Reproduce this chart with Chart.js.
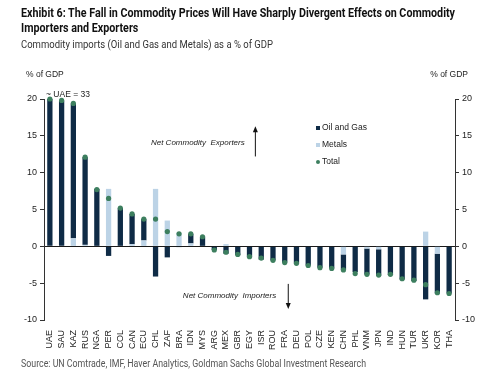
<!DOCTYPE html>
<html>
<head>
<meta charset="utf-8">
<script src="https://cdn.jsdelivr.net/npm/chart.js@4"></script>
<style>
  html, body { margin: 0; padding: 0; background: #fff; }
  #wrap { position: relative; width: 500px; height: 373px; overflow: hidden; }
  #chart { position: absolute; left: 0; top: 0; }
  .txt { position: absolute; left: 21px; white-space: nowrap; transform-origin: 0 0;
         font-family: Roboto, "Liberation Sans", sans-serif; }
  #title { top: 5px; font-size: 13px; font-weight: bold; color: #111; line-height: 15px; }
  #subtitle { top: 38px; font-size: 11px; color: #333; }
  #source { top: 357px; font-size: 10.5px; color: #555; }
</style>
</head>
<body>
<div id="wrap">
  <canvas id="chart" width="500" height="373"></canvas>
  <div class="txt" id="title" data-w="434">Exhibit 6: The Fall in Commodity Prices Will Have Sharply Divergent Effects on Commodity<br>Importers and Exporters</div>
  <div class="txt" id="subtitle" data-w="252">Commodity imports (Oil and Gas and Metals) as a % of GDP</div>
  <div class="txt" id="source" data-w="345">Source: UN Comtrade, IMF, Haver Analytics, Goldman Sachs Global Investment Research</div>
</div>
<script>
/*
* chart data (% of GDP)
*/
const countries = ['UAE', 'SAU', 'KAZ', 'RUS', 'NGA', 'PER', 'COL', 'CAN', 'ECU', 'CHL',
   'ZAF', 'BRA', 'IDN', 'MYS', 'ARG', 'MEX', 'GBR', 'EGY', 'ISR', 'ROU', 'FRA', 'DEU',
   'POL', 'CZE', 'KEN', 'CHN', 'PHL', 'VNM', 'JPN', 'IND', 'HUN', 'TUR', 'UKR', 'KOR', 'THA'];

const oilAndGas = [33, 19.8, 18.3, 11.9, 7.8, -1.3, 5.2, 4.1, 2.9, -4.1,
   -1.5, -0.1, 1.3, 1.3, -0.5, -1.0, -1.2, -1.5, -1.8, -1.9, -2.2, -2.3,
   -2.6, -2.9, -3.0, -2.1, -3.5, -3.5, -3.6, -3.9, -4.5, -4.7, -7.2, -5.4, -6.4];

const metals = [0, 0, 1.1, 0.2, 0, 7.8, 0, 0.3, 0.8, 7.8,
   3.5, 1.8, 0.4, 0, 0, 0.3, 0, 0, 0, 0, 0, 0,
   0, 0, 0, -1.1, 0, -0.3, -0.4, 0, 0, 0, 2.0, -1.0, 0];

const total = [33, 19.8, 19.4, 12.1, 7.7, 6.5, 5.2, 4.4, 3.7, 3.7,
   2.0, 1.7, 1.7, 1.3, -0.5, -0.8, -1.1, -1.4, -1.6, -1.9, -2.2, -2.3,
   -2.6, -2.9, -3.0, -3.2, -3.7, -3.8, -3.9, -3.8, -4.4, -4.6, -5.2, -6.3, -6.4];

const yTicks = [20, 15, 10, 5, 0, -5, -10];

const Y_MIN = -10;
const Y_MAX = 20;

const NAVY = '#0f2b46';
const LIGHT = '#bcd3e6';
const GREEN = '#3d7f5f';
const FONT = '"Liberation Sans", Arial, sans-serif';

/*
* the report font is a narrow one, so squeeze the header and source lines
* to the width they have in the original.
*/
document.querySelectorAll('.txt').forEach(el => {
   const target = Number(el.dataset.w);
   const w = el.getBoundingClientRect().width;
   el.style.transform = 'scaleX(' + (target / w) + ')';
});

/*
* draws the "% of GDP" headers, the UAE note, the two arrows with their text
* and the legend on the right.
*/
const notesPlugin = {
   id: 'notes',
   afterDraw(chart) {
      const ctx = chart.ctx;
      const area = chart.chartArea;
      const x = chart.scales.x;
      const y = chart.scales.y;
      ctx.save();
      ctx.fillStyle = '#222';
      ctx.textBaseline = 'middle';

      ctx.font = '8.5px ' + FONT;
      ctx.textAlign = 'left';
      ctx.fillText('% of GDP', 26, 75);
      ctx.textAlign = 'right';
      ctx.fillText('% of GDP', 468, 75);

      ctx.textAlign = 'left';
      ctx.fillText('~ UAE = 33', area.left + 2, area.top - 4);

      // arrows
      ctx.font = 'italic 8px ' + FONT;
      ctx.textAlign = 'center';
      ctx.fillText('Net Commodity  Exporters', x.getPixelForValue(12.6), y.getPixelForValue(14.1));
      ctx.fillText('Net Commodity  Importers', x.getPixelForValue(15.3), y.getPixelForValue(-6.7));
      drawArrow(ctx, x.getPixelForValue(17.5), y.getPixelForValue(12.2), y.getPixelForValue(16.3));
      drawArrow(ctx, x.getPixelForValue(20.3), y.getPixelForValue(-5.1), y.getPixelForValue(-8.5));

      // legend
      const items = [chart.data.datasets[1], chart.data.datasets[0], chart.data.datasets[2]];
      ctx.font = '8.5px ' + FONT;
      ctx.textAlign = 'left';
      items.forEach((ds, i) => {
         const ly = 128 + i * 17;
         ctx.fillStyle = ds.backgroundColor;
         if (ds.type === 'line') {
            ctx.beginPath();
            ctx.arc(318, ly, 2, 0, Math.PI * 2);
            ctx.fill();
         } else {
            ctx.fillRect(316, ly - 2, 4, 4);
         }
         ctx.fillStyle = '#222';
         ctx.fillText(ds.label, 322, ly);
      });
      ctx.restore();
   }
};

function drawArrow(ctx, ax, fromY, toY) {
   const dir = toY < fromY ? -1 : 1;
   ctx.strokeStyle = '#111';
   ctx.fillStyle = '#111';
   ctx.lineWidth = 1;
   ctx.beginPath();
   ctx.moveTo(ax, fromY);
   ctx.lineTo(ax, toY - dir * 4);
   ctx.stroke();
   ctx.beginPath();
   ctx.moveTo(ax, toY);
   ctx.lineTo(ax - 2.5, toY - dir * 6);
   ctx.lineTo(ax + 2.5, toY - dir * 6);
   ctx.closePath();
   ctx.fill();
}

const tickOpts = {
   autoSkip: false,
   padding: 3,
   color: '#222',
   font: { family: FONT, size: 9 },
   callback: function(value) { return value; }
};

new Chart(document.querySelector('#chart'), {
   data: {
      labels: countries,
      datasets: [{
         type: 'bar',
         label: 'Metals',
         data: metals,
         stack: 'bars',
         backgroundColor: LIGHT,
         barPercentage: 0.45,
         categoryPercentage: 1
      }, {
         type: 'bar',
         label: 'Oil and Gas',
         data: oilAndGas,
         stack: 'bars',
         backgroundColor: NAVY,
         barPercentage: 0.45,
         categoryPercentage: 1
      }, {
         type: 'line',
         label: 'Total',
         // UAE is cut at the top of the axis, as in the source
         data: total.map(v => Math.min(v, Y_MAX)),
         stack: 'total',
         showLine: false,
         order: -1,
         clip: false,
         backgroundColor: GREEN,
         borderColor: GREEN,
         pointRadius: 2.6,
         pointBorderWidth: 0
      }]
   },
   options: {
      responsive: false,
      animation: false,
      layout: { padding: { top: 99, left: 0, right: 0, bottom: 0 } },
      plugins: {
         legend: { display: false },
         tooltip: { enabled: false }
      },
      scales: {
         x: {
            stacked: true,
            grid: { display: false },
            border: { display: false },
            ticks: {
               autoSkip: false,
               minRotation: 90,
               maxRotation: 90,
               padding: 2,
               color: '#222',
               font: { family: FONT, size: 9 }
            },
            afterFit(scale) { scale.height = 53; }
         },
         y: {
            position: 'left',
            stacked: true,
            min: Y_MIN,
            max: Y_MAX,
            afterBuildTicks(scale) { scale.ticks = yTicks.map(v => ({ value: v })); },
            grid: {
               color: ctx => ctx.tick && ctx.tick.value === 0 ? '#1a1a1a' : 'transparent',
               lineWidth: 1,
               tickColor: '#333',
               tickLength: 4
            },
            border: { color: '#333', width: 1 },
            ticks: tickOpts,
            afterFit(scale) { scale.width = 44; }
         },
         y2: {
            position: 'right',
            display: true,
            min: Y_MIN,
            max: Y_MAX,
            afterBuildTicks(scale) { scale.ticks = yTicks.map(v => ({ value: v })); },
            grid: { drawOnChartArea: false, tickColor: '#333', tickLength: 4 },
            border: { color: '#333', width: 1 },
            ticks: tickOpts,
            afterFit(scale) { scale.width = 45; }
         }
      }
   },
   plugins: [notesPlugin]
});
</script>
</body>
</html>
